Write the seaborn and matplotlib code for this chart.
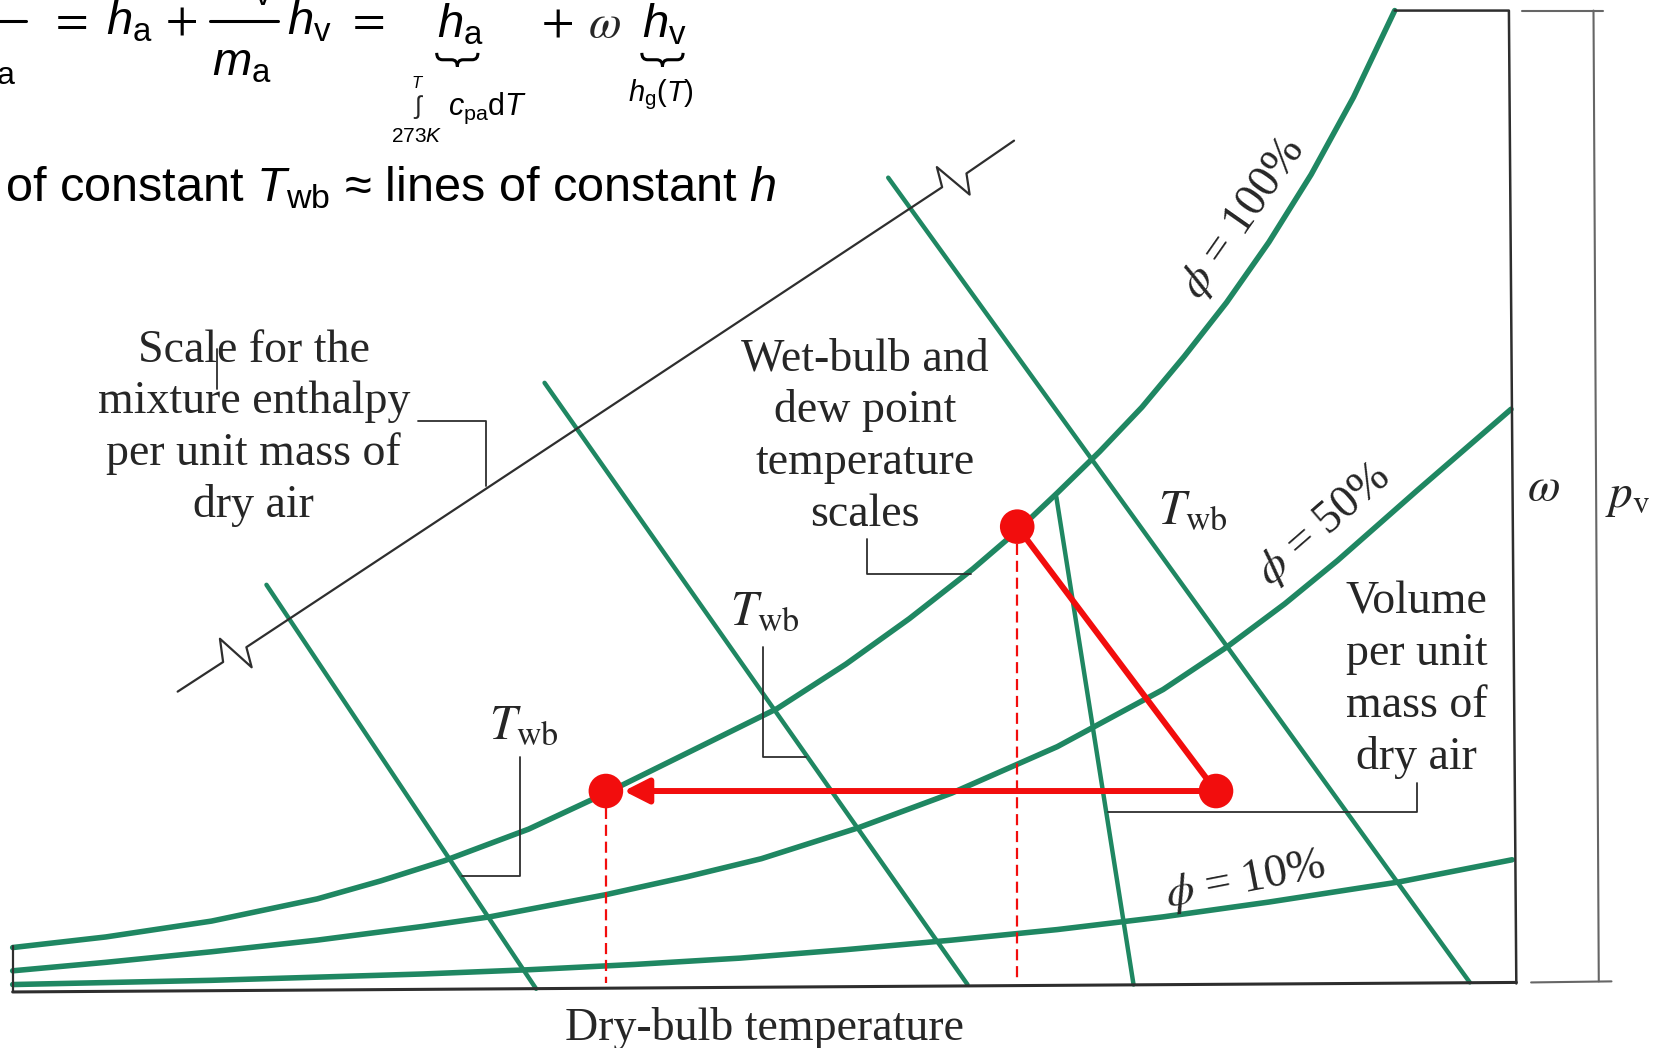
import matplotlib
matplotlib.use("Agg")
import matplotlib.pyplot as plt
import seaborn as sns
import pandas as pd
from matplotlib.path import Path
from matplotlib.patches import PathPatch

# the sketch is laid out on the picture's own grid: x to the right, y downward
GRID_W, GRID_H = 1568, 991

GREEN = "#1f8762"
RED = "#f20d0d"
INK = "#2e2e2e"

# relative humidity curves
phi100_x = [12, 100, 200, 300, 360, 420, 500, 573, 650, 735, 800, 860, 920, 962, 1000, 1040, 1080, 1120, 1160, 1200, 1240, 1280, 1319]
phi100_y = [896, 886, 871, 850, 833, 814, 784, 750, 712, 670, 628, 585, 538, 502, 466, 427, 385, 337, 286, 229, 165, 92, 10]

phi50_x = [12, 100, 200, 300, 400, 463, 573, 650, 720, 811, 900, 1000, 1100, 1160, 1215, 1265, 1340, 1429]
phi50_y = [918, 910, 900, 889, 876, 867, 846, 829, 812, 783, 750, 706, 652, 612, 571, 530, 464, 387]

phi10_x = [12, 200, 400, 500, 600, 700, 800, 900, 1000, 1100, 1200, 1323, 1430]
phi10_y = [931, 927, 921, 917, 912, 906, 898, 889, 879, 867, 853, 834, 813]

# wet-bulb lines and the specific volume line: top end -> bottom end
twb_top_x = [252, 515, 840, 999]
twb_top_y = [553, 362, 168, 470]
twb_bot_x = [507, 915, 1390, 1072]
twb_bot_y = [935, 931, 929, 931]

# enthalpy scale with its two break marks
enth_x = [168, 211, 208, 238, 233, 891, 886, 917, 914, 959]
enth_y = [654, 626, 604, 631, 612, 177, 158, 184, 164, 133]

# process: state 1 -> cooled to dew point (2) -> saturated state (3)
state_x = [1150, 962, 573]
state_y = [748, 498, 748]


def brace(ax, x0, x1, y0, y1, lw=2.2):
    """under-brace opening upward, tip at y1"""
    xm, ym = (x0 + x1) / 2, (y0 + y1) / 2
    r = (x1 - x0) * 0.14
    verts = [(x0, y0), (x0, ym), (x0 + r, ym), (xm - r, ym), (xm, ym), (xm, y1),
             (xm, ym), (xm + r, ym), (x1 - r, ym), (x1, ym), (x1, y0)]
    codes = [Path.MOVETO, Path.CURVE3, Path.CURVE3, Path.LINETO, Path.CURVE3, Path.CURVE3,
             Path.CURVE3, Path.CURVE3, Path.LINETO, Path.CURVE3, Path.CURVE3]
    ax.add_patch(PathPatch(Path(verts, codes), fill=False, lw=lw, color="black"))


sns.set_theme(style="white")
plt.rcParams["font.family"] = ["Liberation Sans", "DejaVu Sans"]
plt.rcParams["mathtext.fontset"] = "custom"
plt.rcParams["mathtext.rm"] = "Liberation Sans"
plt.rcParams["mathtext.it"] = "Liberation Sans:italic"

fig = plt.figure(figsize=(16.58, 10.48), dpi=100)
ax = fig.add_axes([0, 0, 1, 1])

# humidity curves
curves = pd.concat([
    pd.DataFrame({"x": phi100_x, "y": phi100_y, "phi": "100%"}),
    pd.DataFrame({"x": phi50_x, "y": phi50_y, "phi": "50%"}),
    pd.DataFrame({"x": phi10_x, "y": phi10_y, "phi": "10%"}),
])
sns.lineplot(data=curves, x="x", y="y", hue="phi", palette=[GREEN] * 3, sort=False,
             estimator=None, legend=False, lw=4.0, ax=ax)

# straight scale lines
lines = pd.DataFrame({
    "x": twb_top_x + twb_bot_x,
    "y": twb_top_y + twb_bot_y,
    "line": list(range(4)) * 2,
})
sns.lineplot(data=lines, x="x", y="y", units="line", estimator=None, sort=False,
             color=GREEN, lw=3.2, ax=ax)
ax.set_xlim(0, GRID_W)
ax.set_ylim(GRID_H, 0)
ax.set_axis_off()

ax.plot(enth_x, enth_y, color=INK, lw=1.6)

# chart frame and the omega / p_v bracket
ax.plot([1319, 1427, 1434], [10, 10, 930], color=INK, lw=1.8)
ax.plot([12, 1434], [938, 929], color=INK, lw=2.2)
ax.plot([12, 12], [895, 938], color=INK, lw=1.6)
ax.plot([1439, 1516], [10, 10], color="#666666", lw=1.5)
ax.plot([1507, 1512], [10, 928], color="#666666", lw=1.5)
ax.plot([1448, 1524], [929, 928], color="#666666", lw=1.5)

# leader lines
for lx, ly in [([395, 460, 460], [398, 398, 460]),
               ([820, 820, 918], [510, 543, 543]),
               ([722, 722, 762], [612, 716, 716]),
               ([492, 492, 437], [716, 828, 828]),
               ([1340, 1340, 1048], [740, 768, 768]),
               ([205, 205], [330, 368])]:
    ax.plot(lx, ly, color=INK, lw=1.3)

# red process
for sx, sy in zip(state_x[1:], state_y[1:]):
    ax.plot([sx, sx], [sy, 930], color=RED, lw=1.6, dashes=(5, 2.6))
ax.plot(state_x[:2], state_y[:2], color=RED, lw=4.3, solid_capstyle="round")
ax.annotate("", xy=(state_x[2] + 17, state_y[2]), xytext=(state_x[0], state_y[0]),
            arrowprops=dict(arrowstyle="-|>,head_length=0.75,head_width=0.38", color=RED,
                            lw=4.3, shrinkA=0, shrinkB=0, mutation_scale=20))
sns.scatterplot(x=state_x, y=state_y, color=RED, s=620, edgecolor="none", zorder=5, ax=ax)

# serif labels of the chart
serif = dict(family=["Liberation Serif", "DejaVu Serif"], color="#262626", math_fontfamily="stix")
for lines_, cx, y0 in [(["Scale for the", "mixture enthalpy", "per unit mass of", "dry air"], 240, 342),
                       (["Wet-bulb and", "dew point", "temperature", "scales"], 818, 350),
                       (["Volume", "per unit", "mass of", "dry air"], 1340, 580)]:
    for i, t in enumerate(lines_):
        ax.text(cx, y0 + 49 * i, t, ha="center", va="baseline", fontsize=33, **serif)

ax.text(723, 983, "Dry-bulb temperature", ha="center", va="baseline", fontsize=33, **serif)
for tx, ty in [(462, 698), (690, 590), (1095, 495)]:
    ax.text(tx, ty, r"$T_{\rm wb}$", ha="left", va="baseline", fontsize=35, **serif)
ax.text(1444, 473, r"$\omega$", ha="left", va="baseline", fontsize=34, **serif)
ax.text(1518, 479, r"$p_{\rm v}$", ha="left", va="baseline", fontsize=34, **serif)

ax.text(1176, 207, r"$\phi$ = 100%", rotation=55, rotation_mode="anchor",
        ha="center", va="center", fontsize=33, **serif)
ax.text(1252, 497, r"$\phi$ = 50%", rotation=41, rotation_mode="anchor",
        ha="center", va="center", fontsize=33, **serif)
ax.text(1178, 833, r"$\phi$ = 10%", rotation=11, rotation_mode="anchor",
        ha="center", va="center", fontsize=33, **serif)

# equation header (cut at the left edge as in the slide)
sans = dict(color="black", math_fontfamily="custom", va="baseline")
ops = dict(color="black", math_fontfamily="stix", va="center", fontsize=34)
ax.plot([-5, 25], [19.5, 19.5], color="black", lw=2.2)
ax.text(15, 73, r"$m_{\rm a}$", ha="right", fontsize=33, **sans)
ax.text(46, 20, r"$=$", ha="left", **ops)
ax.text(100, 33, r"$h_{\rm a}$", ha="left", fontsize=34, **sans)
ax.text(156, 20, r"$+$", ha="left", **ops)
ax.plot([199, 263], [19.5, 19.5], color="black", lw=2.2)
ax.text(231, -1, r"$m_{\rm v}$", ha="center", fontsize=33, **sans)
ax.text(229, 71, r"$m_{\rm a}$", ha="center", fontsize=34, **sans)
ax.text(271, 33, r"$h_{\rm v}$", ha="left", fontsize=34, **sans)
ax.text(327, 20, r"$=$", ha="left", **ops)
ax.text(413, 35, r"$h_{\rm a}$", ha="left", fontsize=34, **sans)
ax.text(512, 22, r"$+$", ha="left", **ops)
ax.text(556, 35, r"$\omega$", ha="left", fontsize=34, math_fontfamily="stix", va="baseline")
ax.text(607, 35, r"$h_{\rm v}$", ha="left", fontsize=34, **sans)
brace(ax, 413, 452, 50, 63)
brace(ax, 607, 646, 50, 63)
ax.text(594, 96, r"$h_{\rm g}(T)$", ha="left", fontsize=21, **sans)
ax.text(395, 83, r"$T$", ha="center", fontsize=12, **sans)
ax.text(395, 101, "\u222b", ha="center", va="center", fontsize=18, family="Liberation Sans")
ax.text(370, 134, r"273$K$", ha="left", fontsize=15, **sans)
ax.text(424, 109, r"$c_{\rm pa}{\rm d}T$", ha="left", fontsize=22, **sans)

ax.text(5, 190, "of constant $T_{\\rm wb}$ \u2248 lines of constant $h$",
        ha="left", fontsize=35, **sans)

fig.savefig("out.png", dpi=100)
